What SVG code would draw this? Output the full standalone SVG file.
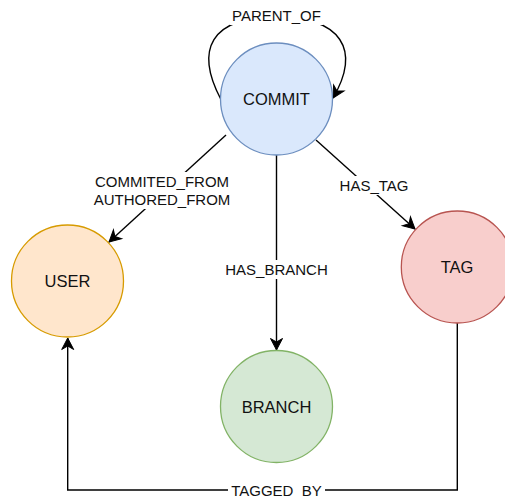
<svg xmlns="http://www.w3.org/2000/svg" width="505" height="497" viewBox="0 0 505 497">
  <style>
    .node circle { stroke-width: 1.3; }
    .node text { font-family: "Liberation Sans", Arial, sans-serif; font-size: 16.5px; fill: #111; text-anchor: middle; }
    .edge { fill: none; stroke: #000; stroke-width: 1.4; }
    .lbl { font-family: "Liberation Sans", Arial, sans-serif; font-size: 15px; fill: #111; text-anchor: middle; }
    .bg { fill: #fff; }
  </style>
  <defs>
    <marker id="arrow" markerUnits="userSpaceOnUse" viewBox="-12 -7 13 14" refX="0" refY="0" markerWidth="13" markerHeight="14" orient="auto" overflow="visible">
      <path d="M0,0 L-11.5,-6 L-8,0 L-11.5,6 Z" fill="#000" stroke="#000" stroke-width="1" stroke-linejoin="miter"/>
    </marker>
  </defs>
  <rect width="505" height="497" fill="#fff"/>

  <g id="connectors">
    <!-- PARENT_OF self loop -->
    <path class="edge" d="M220.7,99 C195,50 210,17 276,17 C342,17 361,50 333,98" marker-end="url(#arrow)"/>
    <!-- COMMITED_FROM / AUTHORED_FROM -->
    <path class="edge" d="M226,135 L109,242" marker-end="url(#arrow)"/>
    <!-- HAS_BRANCH -->
    <path class="edge" d="M276.5,155 L276.5,350" marker-end="url(#arrow)"/>
    <!-- HAS_TAG -->
    <path class="edge" d="M316,140 L415,229" marker-end="url(#arrow)"/>
    <!-- TAGGED_BY -->
    <path class="edge" d="M457.3,323 L457.3,490 L67.7,490 L67.7,338" marker-end="url(#arrow)"/>

    <rect class="bg" x="230" y="6" width="93" height="19"/>
    <text class="lbl" x="276.5" y="21">PARENT_OF</text>

    <rect class="bg" x="92" y="172" width="141" height="37"/>
    <text class="lbl" x="162" y="187">COMMITED_FROM</text>
    <text class="lbl" x="162" y="204.5">AUTHORED_FROM</text>

    <rect class="bg" x="337" y="176" width="74" height="19"/>
    <text class="lbl" x="374" y="190.5">HAS_TAG</text>

    <rect class="bg" x="222" y="260" width="109" height="19"/>
    <text class="lbl" x="276.5" y="274.5">HAS_BRANCH</text>

    <rect class="bg" x="228" y="481" width="97" height="16"/>
    <text class="lbl" x="276.5" y="495.5">TAGGED_BY</text>
  </g>

  <g id="commit" class="node">
    <circle cx="276.5" cy="99" r="56" fill="#dae8fc" stroke="#6c8ebf"/>
    <text x="276.5" y="105">COMMIT</text>
  </g>
  <g id="user" class="node">
    <circle cx="67.5" cy="281" r="56" fill="#ffe6cc" stroke="#d79b00"/>
    <text x="67.5" y="286.7">USER</text>
  </g>
  <g id="tag" class="node">
    <circle cx="457.3" cy="267" r="56" fill="#f8cecc" stroke="#b85450"/>
    <text x="457" y="272.6">TAG</text>
  </g>
  <g id="branch" class="node">
    <circle cx="276.5" cy="406.5" r="56" fill="#d5e8d4" stroke="#82b366"/>
    <text x="276.5" y="413.2">BRANCH</text>
  </g>
</svg>
